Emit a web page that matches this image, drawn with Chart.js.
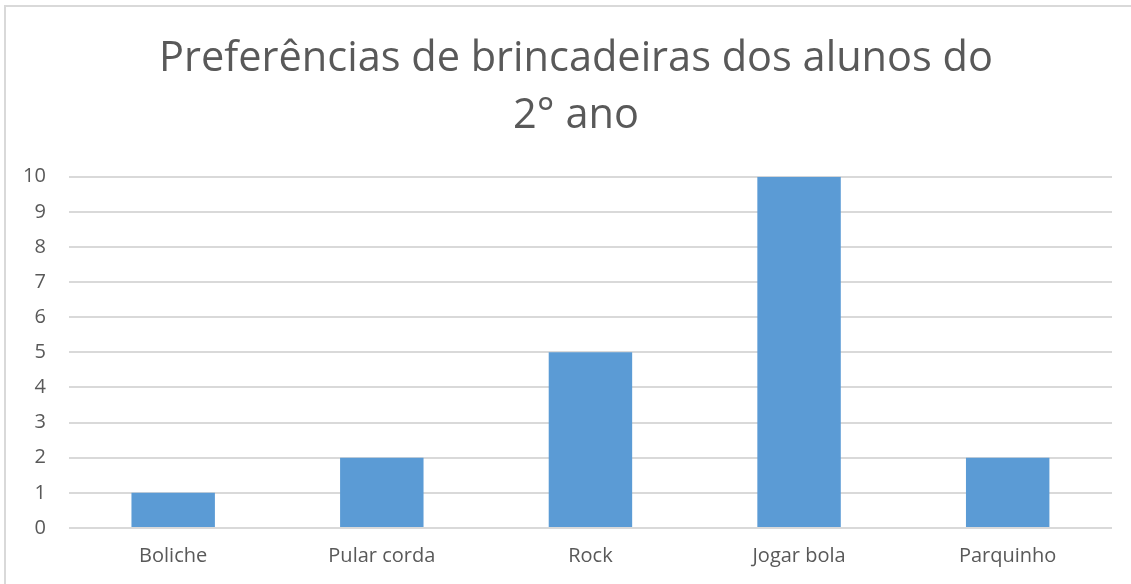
<!DOCTYPE html>
<html>
<head>
<meta charset="utf-8">
<script src="https://cdn.jsdelivr.net/npm/chart.js@4.4.0/dist/chart.umd.min.js"></script>
<style>
    body { margin: 0; background: #fff; overflow: hidden; }
    #frame {
        position: absolute;
        left: 4px;
        top: 5px;
        width: 1200px;
        height: 700px;
        border-top: 2px solid #d9d9d9;
        border-left: 2px solid #d9d9d9;
    }
    #chartBox { position: absolute; left: 0; top: 0; width: 1131px; height: 584px; }
</style>
</head>
<body>
<div id="frame"></div>
<div id="chartBox"><canvas id="playChart" width="1131" height="584"></canvas></div>
<script>
const categories = ['Boliche', 'Pular corda', 'Rock', 'Jogar bola', 'Parquinho'];
const votes = [1, 2, 5, 10, 2];
const yTicks = [0, 1, 2, 3, 4, 5, 6, 7, 8, 9, 10];
const chartTitle = ['Preferências de brincadeiras dos alunos do', '2° ano'];

// title in the original sits a bit right of the middle
const shiftTitle = {
    id: 'shiftTitle',
    afterLayout(chart) {
        if (chart.titleBlock) {
            chart.titleBlock.left += 40;
        }
    }
};

document.addEventListener('DOMContentLoaded', () => {
    const ctx = document.getElementById('playChart').getContext('2d');
    new Chart(ctx, {
        type: 'bar',
        data: {
            labels: categories,
            datasets: [{
                label: 'Alunos',
                data: votes,
                backgroundColor: '#5b9bd5',
                barPercentage: 0.4,
                categoryPercentage: 1.0
            }]
        },
        options: {
            responsive: false,
            animation: false,
            layout: {
                padding: { left: 0, right: 19, top: 0, bottom: 0 }
            },
            plugins: {
                legend: { display: false },
                tooltip: { enabled: false },
                title: {
                    display: true,
                    text: chartTitle,
                    color: '#595959',
                    font: { family: 'Open Sans', size: 41.5, weight: 'normal', lineHeight: 1.37 },
                    padding: { top: 31, bottom: 32 }
                }
            },
            scales: {
                x: {
                    grid: { display: false, drawTicks: false },
                    border: { display: false },
                    ticks: {
                        color: '#595959',
                        font: { family: 'Open Sans', size: 20 },
                        padding: 16
                    }
                },
                y: {
                    min: 0,
                    max: 10,
                    afterBuildTicks: axis => {
                        axis.ticks = yTicks.map(v => ({ value: v }));
                    },
                    grid: { color: '#d9d9d9', lineWidth: 2, drawTicks: false },
                    border: { display: false },
                    ticks: {
                        color: '#595959',
                        font: { family: 'Open Sans', size: 20 },
                        padding: 23
                    }
                }
            }
        },
        plugins: [shiftTitle]
    });
});
</script>
</body>
</html>
